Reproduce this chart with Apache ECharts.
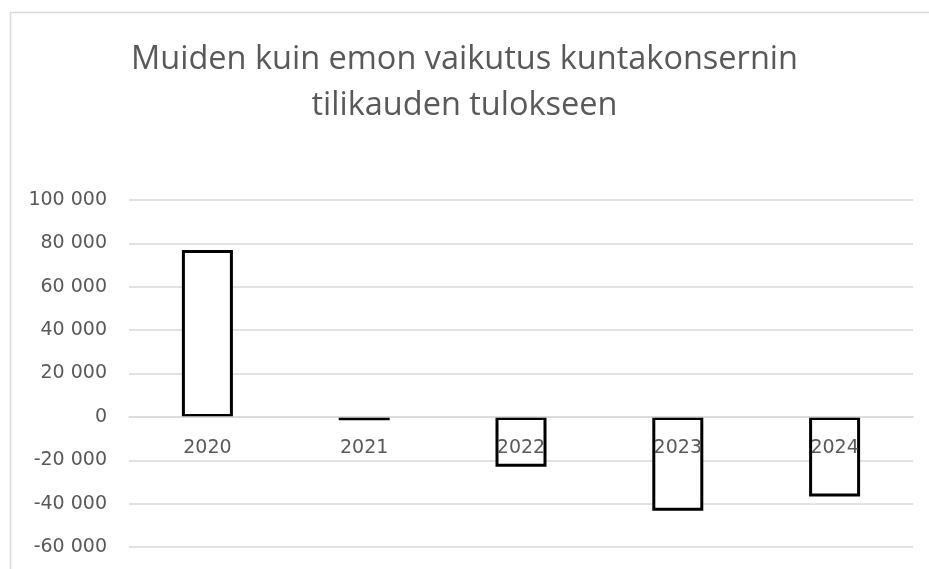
<!DOCTYPE html>
<html>
<head>
<meta charset="utf-8">
<script src="https://cdn.jsdelivr.net/npm/echarts@6/dist/echarts.min.js"></script>
<style>html,body{margin:0;padding:0;background:#fff}#c{width:929px;height:569px}</style>
</head>
<body>
<div id="c"></div>
<script>
var categories = ['2020', '2021', '2022', '2023', '2024'];
var values = [77000, -1500, -23000, -43300, -36700];
var titleLines = ['Muiden kuin emon vaikutus kuntakonsernin', 'tilikauden tulokseen'];
var yMin = -60000, yMax = 100000, yStep = 20000;

var W = 929, H = 569;
var gridTop = 200, gridBottom = 22;
var plotH = H - gridTop - gridBottom;
// place the category axis on the zero line of the value axis
var zeroOffset = -((0 - yMin) / (yMax - yMin)) * plotH;

var chart = echarts.init(document.getElementById('c'), null, {renderer: 'canvas'});
function fmt(v) {
  var s = String(Math.abs(v)).replace(/\B(?=(\d{3})+(?!\d))/g, ' ');
  return (v < 0 ? '-' : '') + s;
}
chart.setOption({
  animation: false,
  backgroundColor: '#fff',
  title: {
    text: titleLines.join('\n'),
    left: 'center',
    top: 32,
    textStyle: {fontFamily: 'Open Sans', fontSize: 32.5, fontWeight: 'normal', color: '#595959', lineHeight: 46}
  },
  graphic: [{
    type: 'rect', left: 8, top: 10, z: -1,
    shape: {width: 940, height: 580},
    style: {fill: 'none', stroke: '#d9d9d9', lineWidth: 1.5}
  }],
  grid: {left: 129, right: 16, top: gridTop, bottom: gridBottom, containLabel: false, outerBoundsMode: 'none'},
  xAxis: {
    type: 'category',
    data: categories,
    position: 'bottom',
    offset: zeroOffset,
    z: 5,
    axisLine: {show: true, onZero: false, lineStyle: {color: '#d9d9d9', width: 1.5}},
    axisTick: {show: false},
    axisLabel: {margin: 22, fontFamily: 'DejaVu Sans', fontSize: 19, color: '#595959'}
  },
  yAxis: {
    type: 'value',
    min: yMin, max: yMax, interval: yStep,
    axisLine: {show: false},
    axisTick: {show: false},
    splitLine: {lineStyle: {color: '#d9d9d9', width: 1.5}},
    axisLabel: {margin: 22, fontFamily: 'DejaVu Sans', fontSize: 19, color: '#595959', formatter: fmt}
  },
  series: [{
    type: 'bar',
    data: values,
    barWidth: 51,
    itemStyle: {color: '#ffffff', borderColor: '#000000', borderWidth: 3}
  }]
});
</script>
</body>
</html>
